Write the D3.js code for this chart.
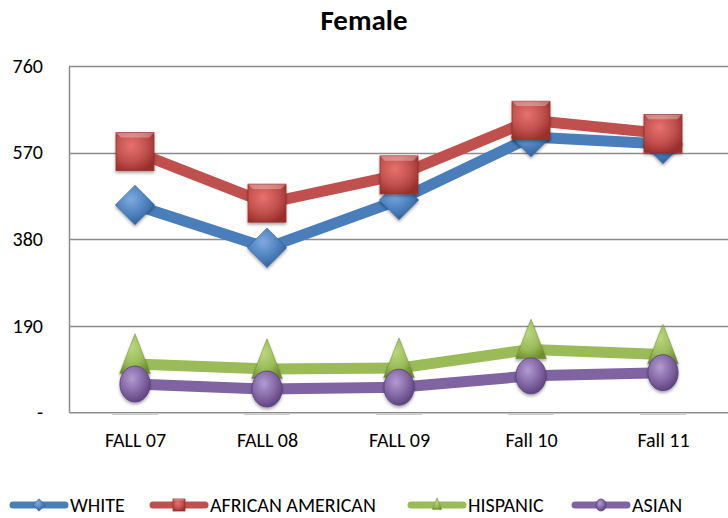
<!DOCTYPE html>
<html>
<head>
<meta charset="utf-8">
<script src="https://cdn.jsdelivr.net/npm/d3@7"></script>
<style>
    body { margin: 0; background: #fff; }
    text { font-family: Carlito, "Open Sans", "Noto Sans", sans-serif; }
</style>
</head>
<body>
<div id="chart"></div>
<script>
    const categories = ["FALL 07", "FALL 08", "FALL 09", "Fall 10", "Fall 11"];
    const yTicks = [0, 190, 380, 570, 760];
    const white = [455, 361, 466, 604, 589];
    const africanAmerican = [572, 459, 521, 641, 612];
    const hispanic = [106, 95, 97, 138, 127];
    const asian = [62, 51, 55, 80, 87];

    const series = [
        {name: "WHITE", values: white, color: "#4A7EBB", light: "#7FAAE0", dark: "#2C5C98", shape: "diamond"},
        {name: "AFRICAN AMERICAN", values: africanAmerican, color: "#C0504D", light: "#E8716D", dark: "#9A2F2C", shape: "square"},
        {name: "HISPANIC", values: hispanic, color: "#9BBB59", light: "#B9D77C", dark: "#6F8C30", shape: "triangle"},
        {name: "ASIAN", values: asian, color: "#8064A2", light: "#B39BD2", dark: "#5A3F7C", shape: "circle"}
    ];

    const width = 728, height = 518;
    const margin = {left: 69, right: -1, top: 66, bottom: 105};

    const svg = d3.select("#chart").append("svg")
        .attr("width", width)
        .attr("height", height);

    const defs = svg.append("defs");
    series.forEach(function (s, i) {
        const g = defs.append("radialGradient")
            .attr("id", "grad" + i)
            .attr("cx", "40%").attr("cy", "35%").attr("r", "70%");
        g.append("stop").attr("offset", "0%").attr("stop-color", s.light);
        g.append("stop").attr("offset", "60%").attr("stop-color", s.color);
        g.append("stop").attr("offset", "100%").attr("stop-color", s.dark);
    });
    const shadow = defs.append("filter").attr("id", "shadow")
        .attr("x", "-30%").attr("y", "-30%").attr("width", "160%").attr("height", "170%");
    shadow.append("feDropShadow").attr("dx", 0).attr("dy", 2).attr("stdDeviation", 1.5)
        .attr("flood-color", "#000").attr("flood-opacity", 0.35);

    const x = d3.scalePoint()
        .domain(categories)
        .range([margin.left, width - margin.right])
        .padding(0.5);

    const y = d3.scaleLinear()
        .domain([0, 760])
        .range([height - margin.bottom - 0.7, margin.top]);

    // title
    svg.append("text")
        .attr("x", 364)
        .attr("y", 30)
        .attr("text-anchor", "middle")
        .style("font-size", "29px")
        .style("font-weight", "bold")
        .text("Female");

    // grid
    svg.append("g")
        .selectAll("line")
        .data(yTicks.slice(1))
        .enter().append("line")
        .attr("x1", margin.left).attr("x2", width)
        .attr("y1", d => Math.round(y(d)) + 0.5).attr("y2", d => Math.round(y(d)) + 0.5)
        .attr("stroke", "#8c8c8c").attr("stroke-width", 1.5);

    // axes
    const yAxis = d3.axisLeft(y).tickValues(yTicks).tickSize(0)
        .tickFormat(d => d === 0 ? "-" : d);
    const gy = svg.append("g")
        .attr("transform", "translate(" + margin.left + ",0)")
        .call(yAxis);
    gy.select(".domain").attr("stroke", "#8c8c8c").attr("stroke-width", 1.5);
    gy.selectAll("text").attr("x", -26).attr("text-anchor", "end")
        .style("font-size", "20px").attr("fill", "#000");

    const xAxis = d3.axisBottom(x).tickSize(0);
    const gx = svg.append("g")
        .attr("transform", "translate(0," + y(0) + ")")
        .call(xAxis);
    gx.select(".domain").attr("stroke", "#8c8c8c").attr("stroke-width", 1.5);
    gx.selectAll("text").attr("y", 35).attr("dy", 0)
        .style("font-size", "20px").attr("fill", "#000");

    // faint marker reflections on the base line
    svg.append("g").selectAll("line")
        .data(categories)
        .enter().append("line")
        .attr("x1", d => x(d) - 23).attr("x2", d => x(d) + 23)
        .attr("y1", y(0) + 2).attr("y2", y(0) + 2)
        .attr("stroke", "#cfcfcf").attr("stroke-width", 1.5);

    function drawMarker(sel, s, i, size) {
        const fill = "url(#grad" + i + ")";
        if (s.shape === "diamond") {
            const r = size * 0.52;
            sel.append("path")
                .attr("d", "M0," + (-r) + "L" + r + ",0L0," + r + "L" + (-r) + ",0Z")
                .attr("fill", fill).attr("stroke", s.dark).attr("stroke-width", 0.5);
        } else if (s.shape === "square") {
            const h = size * 0.5;
            sel.append("rect")
                .attr("x", -h).attr("y", -h).attr("width", 2 * h).attr("height", 2 * h)
                .attr("fill", fill).attr("stroke", s.dark).attr("stroke-width", 0.8);
            sel.append("path")
                .attr("d", "M" + (-h) + "," + (-h) + "L" + (-h * 0.75) + "," + (-h * 0.75) + "L" + (h * 0.75) + "," + (-h * 0.75) + "L" + h + "," + (-h) + "Z")
                .attr("fill", "#fff").attr("opacity", 0.3);
        } else if (s.shape === "triangle") {
            const h = size * 0.55;
            sel.append("path")
                .attr("d", "M0," + (-h * 1.1) + "L" + (h * 0.7) + "," + (h * 0.7) + "L" + (-h * 0.7) + "," + (h * 0.7) + "Z")
                .attr("fill", fill).attr("stroke", s.dark).attr("stroke-width", 0.5);
        } else {
            sel.append("ellipse")
                .attr("rx", size * 0.42).attr("ry", size * 0.5)
                .attr("fill", fill).attr("stroke", s.dark).attr("stroke-width", 0.8);
        }
    }

    const line = d3.line()
        .x((d, i) => x(categories[i]))
        .y(d => y(d));

    const gSeries = svg.append("g");
    series.forEach(function (s, i) {
        gSeries.append("path")
            .datum(s.values)
            .attr("d", line)
            .attr("fill", "none")
            .attr("stroke", s.color)
            .attr("stroke-width", 11)
            .attr("stroke-linejoin", "round");
    });
    series.forEach(function (s, i) {
        const msize = s.shape === "triangle" ? 40 : (s.shape === "circle" ? 36 : 38);
        gSeries.selectAll("g.m" + i)
            .data(s.values)
            .enter().append("g")
            .attr("class", "m" + i)
            .attr("filter", "url(#shadow)")
            .attr("transform", (d, j) => {
                const dy = s.shape === "triangle" ? -6 : 0;
                return "translate(" + x(categories[j]) + "," + (y(d) + dy) + ")";
            })
            .each(function () { drawMarker(d3.select(this), s, i, msize); });
    });

    // legend
    const legendX = [10, 150, 408, 572];
    const legend = svg.append("g");
    series.forEach(function (s, i) {
        const lg = legend.append("g").attr("transform", "translate(" + legendX[i] + ",505)");
        lg.append("line")
            .attr("x1", 3).attr("x2", 55).attr("y1", 0).attr("y2", 0)
            .attr("stroke", s.color).attr("stroke-width", 7).attr("stroke-linecap", "round");
        const m = lg.append("g").attr("transform", "translate(29,0)");
        drawMarker(m, s, i, 12);
        lg.append("text")
            .attr("x", 60).attr("y", 0).attr("dy", "0.35em")
            .style("font-size", "20px")
            .text(s.name);
    });
</script>
</body>
</html>
